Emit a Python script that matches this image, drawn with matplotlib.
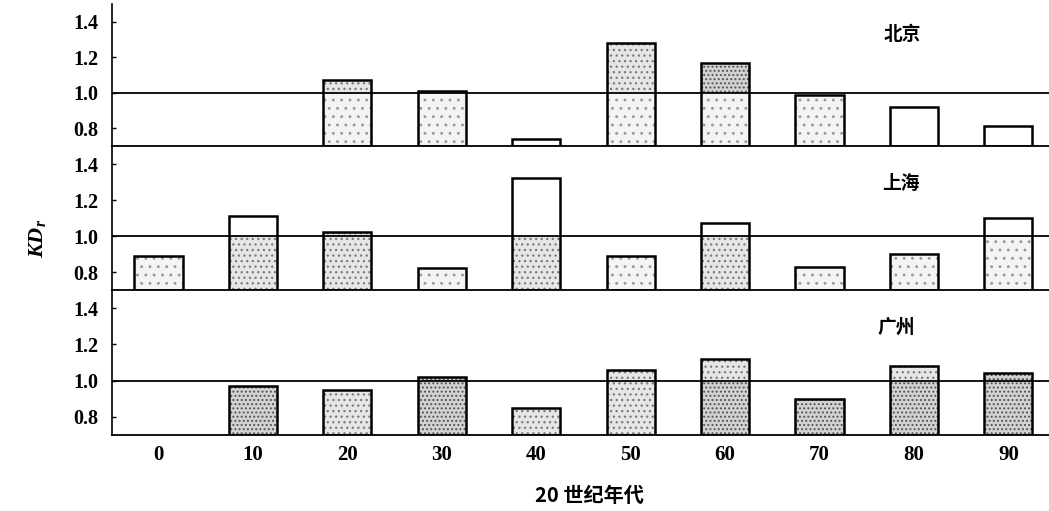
import matplotlib
matplotlib.use("Agg")
import matplotlib.pyplot as plt
import numpy as np

# ---- data ----
decades = ["0", "10", "20", "30", "40", "50", "60", "70", "80", "90"]
cities = ["北京", "上海", "广州"]
beijing = [None, None, 1.07, 1.01, 0.74, 1.28, 1.17, 0.99, 0.92, 0.81]
shanghai = [0.89, 1.11, 1.02, 0.82, 1.32, 0.89, 1.07, 0.83, 0.90, 1.10]
guangzhou = [None, 0.97, 0.95, 1.02, 0.85, 1.06, 1.12, 0.90, 1.08, 1.04]
series = [beijing, shanghai, guangzhou]

# stipple density (0 none .. 3 dense) for part below / above 1.0
lower_shade = [
    [0, 0, 1, 1, 0, 1, 1, 1, 0, 0],
    [1, 2, 2, 1, 2, 1, 2, 1, 1, 1],
    [0, 3, 2, 3, 2, 2, 3, 3, 3, 3],
]
upper_shade = [
    [0, 0, 2, 2, 0, 2, 3, 0, 0, 0],
    [0, 0, 2, 0, 0, 0, 0, 0, 0, 0],
    [0, 0, 0, 3, 0, 2, 2, 0, 2, 3],
]
shade_style = {1: ("..", "#f4f4f4", "#9a9a9a"),
               2: ("...", "#e6e6e6", "#7a7a7a"),
               3: ("....", "#d2d2d2", "#505050")}

plt.rcParams["font.family"] = ["Liberation Serif", "Noto Sans CJK SC"]
plt.rcParams["mathtext.fontset"] = "custom"
plt.rcParams["mathtext.it"] = "Liberation Serif:bold:italic"
plt.rcParams["mathtext.rm"] = "Liberation Serif:bold"
plt.rcParams["hatch.linewidth"] = 0.9

W, H = 1049, 511
fig = plt.figure(figsize=(W / 100, H / 100), dpi=100)

left = 112 / W
right = 1.0
panel_px = [(4, 146), (146, 290), (290, 435)]
title_xy = [(902, 34.5), (901, 183), (896.5, 327)]
base = 0.7
width = 0.51
x = np.arange(len(decades))


def shade_bar(ax, xpos, h, bottom, level):
    hatch, face, dot = shade_style[level]
    ax.bar(xpos, h, width, bottom=bottom, facecolor=face, edgecolor=dot,
           hatch=hatch, linewidth=0, zorder=2)


axes = []
for i, (top_px, bot_px) in enumerate(panel_px):
    ax = fig.add_axes([left, 1 - bot_px / H, right - left, (bot_px - top_px) / H])
    axes.append(ax)
    vals = series[i]
    for j, v in enumerate(vals):
        if v is None:
            continue
        lo_top = min(v, 1.0)
        lv = lower_shade[i][j]
        if lv:
            shade_bar(ax, x[j], lo_top - base, base, lv)
        if v > 1.0:
            uv = upper_shade[i][j]
            if uv:
                shade_bar(ax, x[j], v - 1.0, 1.0, uv)
        ax.bar(x[j], v - base, width, bottom=base, facecolor="none",
               edgecolor="black", linewidth=1.8, zorder=3)
    ax.axhline(1.0, color="black", linewidth=1.3, zorder=4)
    ax.set_xlim(-0.493, 9.43)
    ax.set_ylim(0.7, 1.5)
    ax.set_yticks([0.8, 1.0, 1.2, 1.4])
    ax.set_yticklabels(["0.8", "1.0", "1.2", "1.4"], fontsize=14.5,
                       fontweight="bold", family="Liberation Serif")
    ax.tick_params(axis="y", direction="in", length=3, width=1, pad=10)
    ax.spines["top"].set_visible(False)
    ax.spines["right"].set_visible(False)
    ax.spines["left"].set_linewidth(1.2)
    ax.spines["bottom"].set_linewidth(1.3)
    ax.patch.set_alpha(0)
    tx = (title_xy[i][0] - 112) / (W - 112)
    ty = (bot_px - title_xy[i][1]) / (bot_px - top_px)
    ax.text(tx, ty, cities[i], transform=ax.transAxes, ha="center", va="center",
            fontsize=13.5, fontweight="bold", family="Noto Sans CJK SC")
    if i < 2:
        ax.set_xticks([])
    else:
        ax.set_xticks(x)
        ax.set_xticklabels(decades, fontsize=15, fontweight="bold",
                           family="Liberation Serif")
        ax.tick_params(axis="x", length=0, pad=7)

fig.text(589 / W, 1 - 495 / H, "20 世纪年代", ha="center", va="center",
         fontsize=14.5, fontweight="bold",
         family=["Noto Sans CJK SC", "DejaVu Sans"])
fig.text(37 / W, 1 - 238 / H, r"$KD_r$", ha="center", va="center",
         rotation=90, fontsize=16)

fig.savefig("out.png", dpi=100)
